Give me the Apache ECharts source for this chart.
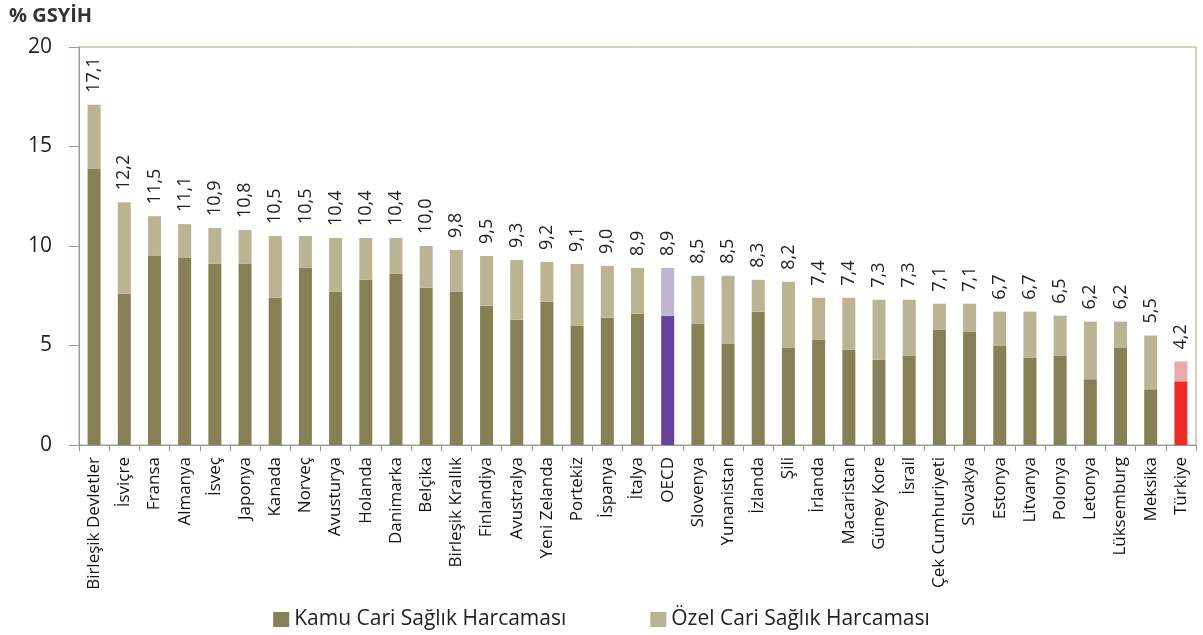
<!DOCTYPE html>
<html><head><meta charset="utf-8">
<script src="https://cdn.jsdelivr.net/npm/echarts@6/dist/echarts.min.js"></script>
<style>html,body{margin:0;padding:0;background:#fff}#c{width:1203px;height:635px}</style>
</head><body><div id="c"></div>
<script>
const categories = ["Birleşik Devletler","İsviçre","Fransa","Almanya","İsveç","Japonya","Kanada","Norveç","Avusturya","Holanda","Danimarka","Belçika","Birleşik Krallık","Finlandiya","Avustralya","Yeni Zelanda","Portekiz","İspanya","İtalya","OECD","Slovenya","Yunanistan","İzlanda","Şili","İrlanda","Macaristan","Güney Kore","İsrail","Çek Cumhuriyeti","Slovakya","Estonya","Litvanya","Polonya","Letonya","Lüksemburg","Meksika","Türkiye"];
const toplam = [17.1,12.2,11.5,11.1,10.9,10.8,10.5,10.5,10.4,10.4,10.4,10.0,9.8,9.5,9.3,9.2,9.1,9.0,8.9,8.9,8.5,8.5,8.3,8.2,7.4,7.4,7.3,7.3,7.1,7.1,6.7,6.7,6.5,6.2,6.2,5.5,4.2];
const kamu = [13.9,7.6,9.5,9.4,9.1,9.1,7.4,8.9,7.7,8.3,8.6,7.9,7.7,7.0,6.3,7.2,6.0,6.4,6.6,6.5,6.1,5.1,6.7,4.9,5.3,4.8,4.3,4.5,5.8,5.7,5.0,4.4,4.5,3.3,4.9,2.8,3.2];
const ozel = toplam.map((t,i)=>Math.round((t-kamu[i])*10)/10);
const yTicks = [0,5,10,15,20];

const DARK='#878056', LIGHT='#bab492';
const special = {"OECD":['#66429a','#bfb5d3'], "Türkiye":['#ee2a2a','#e9aaab']};
const kamuData = kamu.map((v,i)=> special[categories[i]] ? {value:v,itemStyle:{color:special[categories[i]][0]}} : v);
const ozelData = ozel.map((v,i)=> special[categories[i]] ? {value:v,itemStyle:{color:special[categories[i]][1]}} : v);

const chart = echarts.init(document.getElementById('c'));
const FONT = '"Open Sans", sans-serif';
chart.setOption({
  animation:false,
  textStyle:{fontFamily:FONT},
  graphic:[{type:'text',left:9,top:6,style:{text:'% GSYİH',font:'bold 20px '+FONT,fill:'#333'}}],
  grid:{left:79,right:7,top:47,bottom:190,show:true,borderColor:'#a8a27e',borderWidth:1},
  legend:{top:604,left:'center',itemWidth:16,itemHeight:15,itemGap:84,icon:'rect',
    textStyle:{fontSize:21,color:'#222',fontFamily:FONT},
    data:[{name:'Kamu Cari Sağlık Harcaması',itemStyle:{color:DARK}},{name:'Özel Cari Sağlık Harcaması',itemStyle:{color:LIGHT}}]},
  xAxis:{type:'category',data:categories,
    axisLine:{lineStyle:{color:'#9a9a9a'}},
    axisTick:{show:true,alignWithLabel:false,length:6,lineStyle:{color:'#9a9a9a'}},
    axisLabel:{rotate:90,interval:0,fontSize:17,color:'#111',margin:12,fontFamily:FONT}},
  yAxis:{type:'value',min:0,max:20,interval:5,
    axisLine:{show:true,lineStyle:{color:'#9a9a9a'}},
    axisTick:{show:true,inside:false,length:10,lineStyle:{color:'#9a9a9a'}},
    splitLine:{show:false},
    axisLabel:{fontSize:21,color:'#222',margin:27,formatter:v=>yTicks.includes(v)?String(v):''}},
  series:[
    {name:'Kamu Cari Sağlık Harcaması',type:'bar',stack:'t',barWidth:13,data:kamuData,itemStyle:{color:DARK}},
    {name:'Özel Cari Sağlık Harcaması',type:'bar',stack:'t',barWidth:13,data:ozelData,itemStyle:{color:LIGHT},
      label:{show:true,position:'top',rotate:90,align:'left',verticalAlign:'middle',distance:12,
        fontSize:18,color:'#222',fontFamily:FONT,
        formatter:p=>toplam[p.dataIndex].toFixed(1).replace('.',',')}}
  ]
});
</script></body></html>
